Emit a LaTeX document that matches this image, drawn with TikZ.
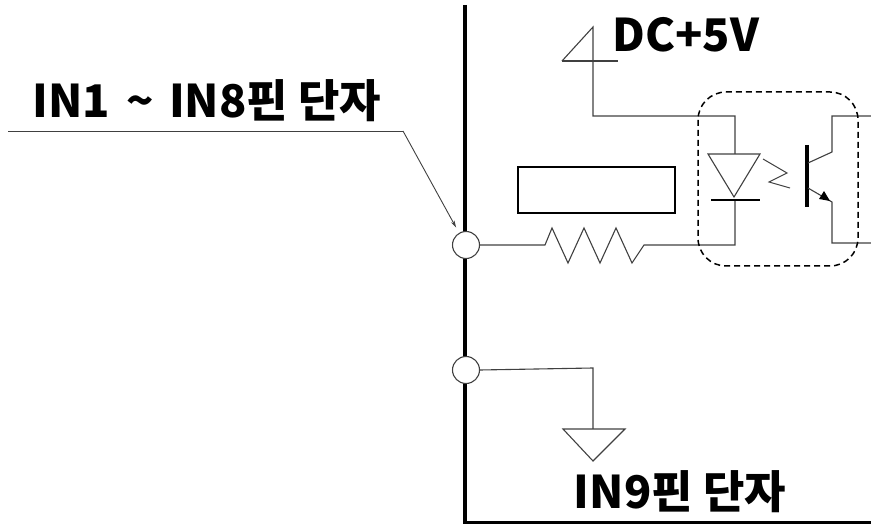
\documentclass[tikz,border=0pt]{standalone}
\usepackage{fontspec}
\setmainfont{Noto Sans CJK KR}
\usetikzlibrary{arrows.meta,calc}
\begin{document}
\begin{tikzpicture}[x=1pt,y=-1pt,
  wire/.style={draw=black!75,line width=1.1pt},
  bus/.style={draw=black,line width=4.5pt},
  term/.style={circle,draw=black!75,line width=1.1pt,fill=white,minimum size=27pt,inner sep=0pt},
  lbl/.style={font=\bfseries\fontsize{45}{50}\selectfont,inner sep=0pt},
  optobox/.style={draw=black,line width=1.5pt,dash pattern=on 6pt off 4pt,rounded corners=28pt}]
\useasboundingbox (0,0) rectangle (871,526);
% bus
\draw[bus] (465,5) -- (465,522) coordinate (bc);
\draw[draw=black,line width=2.5pt] (463,522.5) -- (871,522.5);
% terminals
\node[term] (c1) at (466,245) {};
\node[term] (c2) at (466,370) {};
% labels
\node[lbl] (t1) at (207,101) {IN1\hspace{0.35em}\textasciitilde\hspace{0.35em}IN8핀 단자};
\node[lbl] (t2) at (686,35) {DC+5V};
\node[lbl] (t3) at (680,492) {IN9핀 단자};
% leader
\coordinate (l0) at (8,131);
\coordinate (l1) at (403,131);
\draw[wire,line width=0.9pt] (l0) -- (l1);
\draw[wire,line width=0.9pt,-{Stealth[length=7pt,width=4pt]},shorten >=6pt] (l1) -- (c1.120);
% resistor path
\draw[wire] (c1.east) -- (545,245) -- (552,228) -- (568,263) -- (584,228) -- (600,263) -- (616,228) -- (632,263) -- (644,245) -- (735,245) -- (735,200);
% rectangle
\node[draw=black,line width=1.3pt,minimum width=157pt,minimum height=46pt,inner sep=0pt] (box) at (596.5,190) {};
% power flag
\draw[wire] (562,61) -- (593,27) -- (593,116) -- (735,116) -- (735,154);
\draw[wire] (562,61) -- (618,61);
% LED
\draw[wire] (708,154) -- (760,154) -- (734,197) -- cycle;
\draw[draw=black,line width=2.5pt] (711,200) -- (760,200);
% light arrows
\draw[wire,line width=1pt] (763,159) -- (787,173) -- (769,182) -- (790,188);
% transistor
\draw[draw=black,line width=4pt] (807,145) -- (807,207);
\draw[wire] (808,163) -- (832,152) -- (832,116) -- (871,116);
\draw[wire] (808,188) -- (832,202) -- (832,243) -- (871,243);
\fill[black] (830,201) -- (819,199) -- (824,191) -- cycle;
% opto box
\draw[optobox] (698,92) rectangle (858,266);
% ground
\draw[wire] (c2.east) -- (593,368) -- (593,429);
\draw[wire] (563,429) -- (625,429) -- (593,461) -- cycle;
\end{tikzpicture}
\end{document}
